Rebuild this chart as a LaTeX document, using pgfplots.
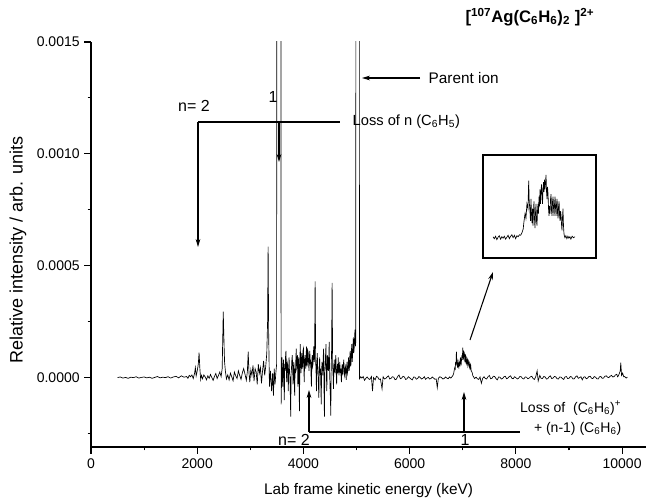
\documentclass[border=0pt]{standalone}
\usepackage{fontspec}
\setmainfont{Liberation Sans}
\usepackage{pgfplots}
\pgfplotsset{compat=1.18}
\usetikzlibrary{arrows.meta}

\pgfplotstableread{
x y
500 0e-6
550 3e-6
600 -2e-6
650 1e-6
700 -3e-6
750 2e-6
800 0e-6
850 4e-6
900 -2e-6
950 1e-6
1000 3e-6
1050 -1e-6
1100 2e-6
1150 -3e-6
1200 1e-6
1250 5e-6
1300 -1e-6
1350 2e-6
1400 0e-6
1450 4e-6
1500 -2e-6
1550 3e-6
1600 6e-6
1650 -1e-6
1700 8e-6
1750 2e-6
1800 5e-6
1825 -3e-6
1850 10e-6
1875 4e-6
1900 12e-6
1925 -4e-6
1950 20e-6
1965 45e-6
1980 8e-6
2000 30e-6
2020 60e-6
2035 112e-6
2050 40e-6
2065 -8e-6
2080 10e-6
2100 -5e-6
2125 12e-6
2150 3e-6
2175 -10e-6
2200 8e-6
2225 -3e-6
2250 14e-6
2275 0e-6
2300 -12e-6
2325 6e-6
2350 18e-6
2375 -4e-6
2400 10e-6
2425 25e-6
2450 5e-6
2470 40e-6
2490 295e-6
2505 150e-6
2515 70e-6
2530 30e-6
2550 -6e-6
2575 12e-6
2600 -10e-6
2625 20e-6
2650 4e-6
2675 -14e-6
2700 25e-6
2725 8e-6
2750 -4e-6
2775 30e-6
2800 10e-6
2825 -8e-6
2850 22e-6
2875 40e-6
2900 15e-6
2925 -12e-6
2945 30e-6
2960 116e-6
2975 20e-6
2990 -20e-6
3010 35e-6
3030 10e-6
3050 55e-6
3070 -15e-6
3090 40e-6
3110 25e-6
3130 -30e-6
3150 60e-6
3170 20e-6
3190 45e-6
3210 -25e-6
3230 30e-6
3250 75e-6
3270 10e-6
3290 50e-6
3310 110e-6
3325 250e-6
3335 585e-6
3345 200e-6
3360 -40e-6
3380 30e-6
3400 -60e-6
3420 20e-6
3435 -80e-6
3450 40e-6
3465 -30e-6
3480 20e-6
3495 60e-6
3500 4000e-6
3570 4000e-6
3580 -120e-6
3595 90e-6
3603 10e-6
3610 -40e-6
3618 50e-6
3625 80e-6
3632 -20e-6
3640 -100e-6
3648 60e-6
3655 30e-6
3662 90e-6
3670 120e-6
3678 30e-6
3685 -20e-6
3692 70e-6
3700 60e-6
3708 10e-6
3715 -60e-6
3722 40e-6
3730 90e-6
3738 20e-6
3745 10e-6
3752 -60e-6
3760 -174e-6
3768 20e-6
3775 40e-6
3782 80e-6
3790 100e-6
3798 30e-6
3805 -30e-6
3812 50e-6
3820 70e-6
3828 -20e-6
3835 -80e-6
3842 40e-6
3850 20e-6
3858 90e-6
3865 130e-6
3872 40e-6
3880 50e-6
3888 100e-6
3895 -40e-6
3902 50e-6
3910 90e-6
3918 -30e-6
3925 -150e-6
3932 60e-6
3940 150e-6
3948 60e-6
3955 20e-6
3962 80e-6
3970 110e-6
3978 40e-6
3985 60e-6
3992 120e-6
4000 130e-6
4008 40e-6
4015 -20e-6
4022 80e-6
4030 100e-6
4038 60e-6
4045 40e-6
4052 110e-6
4060 140e-6
4068 50e-6
4075 70e-6
4082 120e-6
4090 110e-6
4098 60e-6
4105 30e-6
4112 90e-6
4120 120e-6
4128 60e-6
4135 80e-6
4142 20e-6
4150 -40e-6
4158 70e-6
4165 100e-6
4172 50e-6
4180 60e-6
4188 110e-6
4195 140e-6
4202 70e-6
4210 90e-6
4220 430e-6
4230 80e-6
4238 20e-6
4245 -60e-6
4252 60e-6
4260 110e-6
4268 50e-6
4275 20e-6
4282 -30e-6
4290 -90e-6
4298 40e-6
4305 90e-6
4312 20e-6
4320 40e-6
4328 -40e-6
4335 -120e-6
4342 30e-6
4350 70e-6
4358 40e-6
4365 10e-6
4372 90e-6
4380 130e-6
4388 -60e-6
4395 -174e-6
4402 20e-6
4410 60e-6
4418 110e-6
4425 150e-6
4432 20e-6
4440 -60e-6
4448 50e-6
4455 100e-6
4462 60e-6
4470 30e-6
4478 90e-6
4485 160e-6
4492 40e-6
4500 -40e-6
4508 -90e-6
4515 -170e-6
4522 30e-6
4530 120e-6
4540 424e-6
4550 60e-6
4558 10e-6
4565 -50e-6
4572 40e-6
4580 80e-6
4588 30e-6
4595 20e-6
4602 70e-6
4610 100e-6
4618 20e-6
4625 -30e-6
4632 30e-6
4640 60e-6
4648 20e-6
4655 90e-6
4662 40e-6
4670 10e-6
4678 50e-6
4685 70e-6
4692 20e-6
4700 40e-6
4708 10e-6
4715 -20e-6
4722 40e-6
4730 60e-6
4738 10e-6
4745 30e-6
4752 60e-6
4760 80e-6
4768 20e-6
4775 10e-6
4782 40e-6
4790 50e-6
4798 20e-6
4805 -10e-6
4812 40e-6
4820 70e-6
4828 20e-6
4835 30e-6
4842 60e-6
4850 90e-6
4858 30e-6
4865 40e-6
4872 90e-6
4880 120e-6
4888 50e-6
4895 60e-6
4902 110e-6
4910 150e-6
4918 70e-6
4925 100e-6
4932 140e-6
4940 180e-6
4948 110e-6
4955 130e-6
4962 170e-6
4970 214e-6
4978 140e-6
4985 160e-6
4990 4000e-6
5050 4000e-6
5055 -5e-6
5080 4e-6
5100 -2e-6
5125 5e-6
5150 -12e-6
5175 -3e-6
5200 3e-6
5225 -5e-6
5250 -8e-6
5280 5e-6
5300 -60e-6
5320 0e-6
5350 -10e-6
5375 6e-6
5400 2e-6
5425 -8e-6
5450 -6e-6
5480 -50e-6
5500 4e-6
5525 -6e-6
5550 -4e-6
5575 3e-6
5600 8e-6
5625 -6e-6
5650 -3e-6
5675 4e-6
5700 2e-6
5725 -9e-6
5750 -7e-6
5775 5e-6
5800 12e-6
5825 -5e-6
5850 -2e-6
5875 6e-6
5900 3e-6
5925 -8e-6
5950 -5e-6
5975 4e-6
6000 -1e-6
6025 -6e-6
6050 -10e-6
6075 3e-6
6100 2e-6
6125 -7e-6
6150 -4e-6
6175 5e-6
6200 0e-6
6225 -6e-6
6250 -3e-6
6275 4e-6
6300 -8e-6
6325 -2e-6
6350 1e-6
6375 -6e-6
6400 -4e-6
6425 3e-6
6450 -2e-6
6475 -7e-6
6500 -6e-6
6520 -45e-6
6540 -3e-6
6570 4e-6
6600 0e-6
6625 -6e-6
6650 -4e-6
6675 3e-6
6700 -2e-6
6725 -5e-6
6750 3e-6
6775 -2e-6
6800 5e-6
6815 10e-6
6830 20e-6
6840 35e-6
6850 45e-6
6858 40e-6
6865 70e-6
6872 55e-6
6880 116e-6
6888 70e-6
6895 60e-6
6902 45e-6
6910 80e-6
6918 50e-6
6925 45e-6
6932 65e-6
6940 70e-6
6948 50e-6
6955 90e-6
6962 65e-6
6970 60e-6
6978 85e-6
6985 100e-6
6992 80e-6
7000 134e-6
7008 90e-6
7015 85e-6
7022 115e-6
7030 110e-6
7038 75e-6
7045 70e-6
7052 100e-6
7060 95e-6
7068 65e-6
7075 60e-6
7082 85e-6
7090 80e-6
7098 50e-6
7105 55e-6
7112 75e-6
7120 70e-6
7128 45e-6
7135 40e-6
7142 60e-6
7150 55e-6
7158 30e-6
7165 30e-6
7172 25e-6
7180 20e-6
7190 8e-6
7200 5e-6
7220 -4e-6
7250 2e-6
7275 -5e-6
7300 -8e-6
7325 3e-6
7350 -25e-6
7375 -3e-6
7400 4e-6
7425 -4e-6
7450 -6e-6
7475 4e-6
7500 10e-6
7525 -5e-6
7550 -3e-6
7575 6e-6
7600 5e-6
7625 -4e-6
7650 -10e-6
7675 3e-6
7700 2e-6
7725 -6e-6
7750 -4e-6
7775 4e-6
7800 6e-6
7825 -5e-6
7850 -2e-6
7875 5e-6
7900 8e-6
7925 -3e-6
7950 -5e-6
7975 4e-6
8000 0e-6
8025 -6e-6
8050 -3e-6
8075 5e-6
8100 4e-6
8125 -4e-6
8150 -6e-6
8175 3e-6
8200 2e-6
8225 -5e-6
8250 -2e-6
8275 4e-6
8300 6e-6
8325 -4e-6
8350 -8e-6
8375 5e-6
8400 30e-6
8420 -15e-6
8450 10e-6
8475 -3e-6
8500 -4e-6
8525 5e-6
8550 3e-6
8575 -6e-6
8600 -5e-6
8625 4e-6
8650 8e-6
8675 -4e-6
8700 -2e-6
8725 5e-6
8750 4e-6
8775 -5e-6
8800 -6e-6
8825 3e-6
8850 2e-6
8875 -4e-6
8900 -8e-6
8925 3e-6
8950 5e-6
8975 -4e-6
9000 -3e-6
9025 5e-6
9050 3e-6
9075 -6e-6
9100 -5e-6
9125 4e-6
9150 8e-6
9175 -3e-6
9200 0e-6
9225 4e-6
9250 -10e-6
9275 2e-6
9300 4e-6
9325 -5e-6
9350 -2e-6
9375 5e-6
9400 6e-6
9425 -3e-6
9450 -4e-6
9475 5e-6
9500 2e-6
9525 -5e-6
9550 -6e-6
9575 4e-6
9600 5e-6
9625 -3e-6
9650 -2e-6
9675 6e-6
9700 8e-6
9725 2e-6
9750 0e-6
9775 6e-6
9800 10e-6
9825 3e-6
9850 5e-6
9875 12e-6
9900 15e-6
9915 4e-6
9930 8e-6
9950 20e-6
9965 30e-6
9975 67e-6
9990 10e-6
10010 20e-6
10030 4e-6
10050 5e-6
10075 -2e-6
10100 2e-6
}\spectrum

\pgfplotstableread{
x y
6680 2e-6
6690 -2e-6
6700 3e-6
6710 -4e-6
6720 1e-6
6730 4e-6
6740 -3e-6
6750 2e-6
6760 -1e-6
6770 3e-6
6780 -3e-6
6790 1e-6
6800 5e-6
6810 -2e-6
6820 3e-6
6830 6e-6
6840 0e-6
6850 5e-6
6860 -2e-6
6870 4e-6
6880 2e-6
6890 6e-6
6900 5e-6
6910 10e-6
6920 18e-6
6927 35e-6
6935 50e-6
6942 40e-6
6950 70e-6
6958 60e-6
6964 118e-6
6968 75e-6
6974 55e-6
6978 35e-6
6982 80e-6
6986 50e-6
6990 30e-6
6994 60e-6
6998 25e-6
7002 55e-6
7006 75e-6
7010 40e-6
7014 20e-6
7018 50e-6
7022 70e-6
7026 35e-6
7030 25e-6
7034 55e-6
7038 70e-6
7042 50e-6
7046 85e-6
7050 65e-6
7054 100e-6
7058 70e-6
7062 95e-6
7066 110e-6
7070 90e-6
7074 70e-6
7078 100e-6
7082 115e-6
7086 95e-6
7090 120e-6
7094 100e-6
7098 115e-6
7102 130e-6
7106 95e-6
7110 80e-6
7114 105e-6
7118 90e-6
7122 60e-6
7126 45e-6
7130 65e-6
7134 50e-6
7138 80e-6
7142 90e-6
7146 55e-6
7150 45e-6
7154 75e-6
7158 85e-6
7162 60e-6
7166 45e-6
7170 70e-6
7174 85e-6
7178 60e-6
7182 45e-6
7186 70e-6
7190 80e-6
7194 50e-6
7198 40e-6
7202 65e-6
7206 75e-6
7210 45e-6
7214 35e-6
7218 55e-6
7222 45e-6
7226 25e-6
7229 15e-6
7233 40e-6
7237 60e-6
7241 25e-6
7245 8e-6
7249 3e-6
7253 0e-6
7260 4e-6
7268 -2e-6
7276 3e-6
7284 -1e-6
7292 2e-6
7300 -3e-6
7310 3e-6
7320 0e-6
7333 2e-6
}\inset

\begin{document}
\begin{tikzpicture}
\useasboundingbox (0,0) rectangle (484.5pt,375pt);
\begin{axis}[
  at={(68.25pt,39.75pt)}, anchor=south west,
  scale only axis, width=416.25pt, height=303.75pt,
  xmin=0, xmax=10450, ymin=-0.00031, ymax=0.0015,
  axis x line*=bottom, axis y line*=left,
  axis line style={-, line width=0.9pt},
  tick align=outside,
  major tick length=5pt, minor tick length=2.5pt,
  every tick/.style={black, line width=0.8pt},
  xtick={0,2000,...,10000},
  minor xtick={1000,3000,5000,7000,9000},
  ytick={0,0.0005,0.001,0.0015},
  minor ytick={-0.00025,0.00025,0.00075,0.00125},
  scaled x ticks=false, scaled y ticks=false,
  yticklabels={0.0000,0.0005,0.0010,0.0015},
  xticklabel style={/pgf/number format/set thousands separator={}},
  ticklabel style={font=\fontsize{10.5}{12}\selectfont},
  /pgf/number format/assume math mode=true,
  xlabel={Lab frame kinetic energy (keV)},
  ylabel={Relative intensity / arb. units},
  xlabel style={font=\fontsize{11.5}{13}\selectfont, at={(axis description cs:0.5,-0.1086)}, anchor=center},
  ylabel style={font=\fontsize{13.5}{15}\selectfont, at={(axis description cs:-0.1315,0.486)}, anchor=center},
]
\addplot[black, line width=0.5pt] table[x=x,y=y] {\spectrum};
\end{axis}

\begin{axis}[
  at={(362.25pt,181.5pt)}, anchor=south west,
  scale only axis, width=84.75pt, height=77.25pt,
  xmin=6600, xmax=7500, ymin=-42e-6, ymax=171e-6,
  ticks=none, axis line style={line width=0.8pt},
]
\addplot[black, line width=0.5pt] table[x=x,y=y] {\inset};
\end{axis}

\begin{scope}[x=0.75pt, y=-0.75pt, yshift=375pt,
  font=\fontsize{11.5}{13}\selectfont,
  arr/.style={-{Stealth[length=6pt,width=3.5pt]}, line width=0.8pt}]
  % title
  \node[font=\bfseries\fontsize{12.5}{14}\selectfont] at (530,17)
    {[\textsuperscript{107}Ag(C\textsubscript{6}H\textsubscript{6})\textsubscript{2} ]\textsuperscript{2+}};
  % parent ion
  \draw[arr] (420,78) -- (362,78);
  \node[anchor=west] at (424,78) {Parent ion};
  % loss of n (C6H5)
  \draw[line width=0.8pt] (198,122) -- (340,122);
  \draw[arr] (198,122) -- (198,247);
  \draw[arr] (279,122) -- (279,162);
  \node[anchor=west, font=\fontsize{11}{13}\selectfont] at (348,122) {Loss of n (C\textsubscript{6}H\textsubscript{5})};
  \node[font=\fontsize{12}{14}\selectfont] at (194,106) {n= 2};
  \node[font=\fontsize{12}{14}\selectfont] at (273,97) {1};
  % loss of (C6H6)+ + (n-1)(C6H6)
  \draw[line width=0.8pt] (309,432) -- (520,432);
  \draw[arr] (309,432) -- (309,390);
  \draw[arr] (464,432) -- (464,392);
  \node[font=\fontsize{12}{14}\selectfont] at (294,440) {n= 2};
  \node[font=\fontsize{12}{14}\selectfont] at (465,440) {1};
  \node[anchor=east, font=\fontsize{10.5}{12}\selectfont] at (626,408) {Loss of \ (C\textsubscript{6}H\textsubscript{6})\textsuperscript{+}};
  \node[anchor=east, font=\fontsize{10.5}{12}\selectfont] at (626,429) {+ (n-1) (C\textsubscript{6}H\textsubscript{6})};
  % inset arrow
  \draw[arr] (470,340) -- (493,272);
\end{scope}
\end{tikzpicture}
\end{document}
